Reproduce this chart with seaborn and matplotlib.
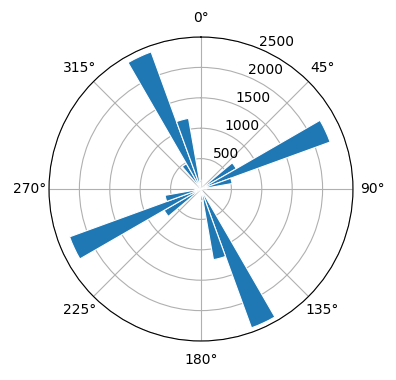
import numpy as np
import matplotlib
matplotlib.use("Agg")
import matplotlib.pyplot as plt
import seaborn as sns

# bin start directions (degrees) and counts
directions = [50, 60, 70, 80, 150, 160, 170, 230, 240, 250, 260, 320, 330, 340, 350]
counts = [670, 2260, 520, 100, 2430, 1180, 200, 700, 2300, 600, 100, 480, 2400, 1180, 150]
r_ticks = [500, 1000, 1500, 2000, 2500]
bin_width = 10

color = sns.color_palette("tab10")[0]

fig = plt.figure(figsize=(3.96, 3.80), dpi=100)
ax = fig.add_axes([0.1237, 0.1026, 0.7677, 0.80], projection="polar")
ax.set_theta_zero_location("N")
ax.set_theta_direction(-1)
ax.bar(np.deg2rad(directions), counts, width=np.deg2rad(bin_width), align="edge",
       color=color, edgecolor="white", linewidth=0.8, zorder=2)
ax.set_ylim(0, 2500)
ax.set_yticks(r_ticks)
ax.set_rlabel_position(22.5)
ax.set_thetagrids(np.arange(0, 360, 45))
ax.grid(True, color="#b0b0b0", linewidth=0.8)
ax.set_axisbelow(True)
fig.savefig("out.png", dpi=100)
